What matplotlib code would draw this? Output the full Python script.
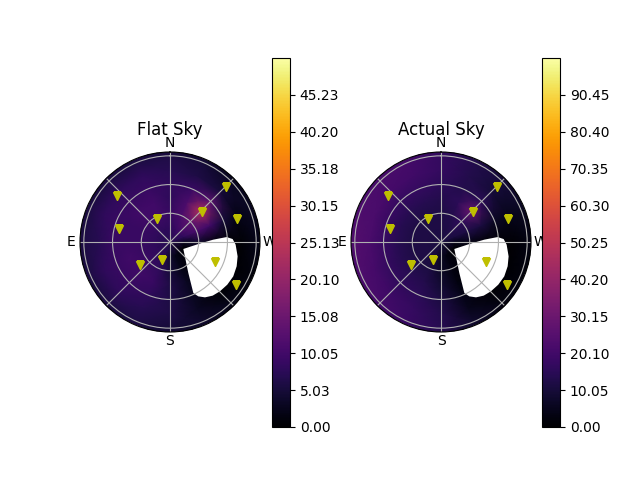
import numpy as np
import matplotlib
matplotlib.use("Agg")
import matplotlib.pyplot as plt

# azimuth (deg, N=0, E=90) and zenith distance of the grid the sky was read on
az_deg = [0, 22.5, 45, 67.5, 90, 112.5, 135, 157.5, 180, 202.5, 225, 247.5, 270, 292.5, 315, 337.5, 360]
zd_deg = [0, 15, 30, 45, 60, 75, 90, 100]

flat_sky = [
    [7, 7, 7, 7, 7, 7, 7, 7, 7, 7, 7, 7, 7, 7, 7, 7, 7],
    [8, 8, 8, 8, 8, 8, 8, 7, 4, 2, 1, 0.5, 3, 8, 10, 9, 8],
    [9, 10, 10, 9, 9, 9, 9, 8, 5, 2, 0, 0, 4, 11, 14, 11, 9],
    [8, 10, 10, 9, 9, 10, 10, 9, 6, 3, 0, 0, 1, 10, 24, 11, 8],
    [8, 9, 9, 9, 9, 9, 9, 8, 6, 3, 0, 0, 0.5, 5, 13, 9, 8],
    [7, 8, 8, 8, 7, 8, 8, 7, 6, 3, 0.5, 0, 0.5, 2, 5, 6, 7],
    [6, 6, 6, 6, 6, 6, 6, 6, 5, 4, 2, 1, 2, 3, 3, 5, 6],
    [4, 5, 5, 5, 5, 5, 5, 5, 4, 3, 2, 1, 2, 2, 2, 3, 4],
]
actual_sky = [
    [11, 11, 11, 11, 11, 11, 11, 11, 11, 11, 11, 11, 11, 11, 11, 11, 11],
    [12, 12, 12, 12, 12, 12, 12, 10, 6, 3, 1, 1, 4, 11, 13, 12, 12],
    [12, 12, 12, 12, 12, 12, 12, 11, 7, 3, 0, 0, 4, 12, 16, 13, 12],
    [13, 14, 14, 14, 14, 14, 14, 13, 9, 3, 0, 0, 1, 11, 30, 15, 13],
    [15, 17, 17, 18, 18, 17, 16, 15, 11, 4, 0, 0, 0.5, 7, 15, 13, 15],
    [17, 20, 21, 22, 22, 21, 19, 17, 13, 5, 0.5, 0, 0.5, 5, 10, 13, 17],
    [17, 21, 22, 23, 24, 23, 21, 18, 14, 8, 3, 2, 3, 6, 10, 13, 17],
    [15, 19, 20, 21, 21, 21, 19, 16, 12, 7, 3, 2, 3, 5, 8, 11, 15],
]

# the blank patch around the sun
hole_az = [242.3, 266.7, 273.1, 275, 272.7, 267.7, 258, 250, 241.5, 233.3, 225.4, 218.5, 212.3, 207.5, 204.6, 210.6, 242.3]
hole_zd = [15.7, 30.7, 45.3, 59.4, 65.5, 68.6, 72.2, 74.1, 75.2, 74.6, 73.3, 71.6, 68.4, 64, 58.6, 37.6, 15.7]

# the yellow triangles
star_az = [48.7, 75.6, 28.8, 312.5, 314.5, 288.9, 245.8, 237, 157.3, 127.8]
star_zd = [73.2, 54.6, 27.4, 45.8, 82, 74.4, 51.9, 82.6, 20.8, 39.2]

flat_ticks = [0.00, 5.03, 10.05, 15.08, 20.10, 25.13, 30.15, 35.18, 40.20, 45.23]
actual_ticks = [0.00, 10.05, 20.10, 30.15, 40.20, 50.25, 60.30, 70.35, 80.40, 90.45]
flat_max = 50.27
actual_max = 100.5

fig = plt.figure(figsize=(6.4, 4.8), dpi=100)


def draw_sky(left, cbar_left, sky, vmax, ticks, title):
    ax = fig.add_axes([left / 640, 148 / 480, 180 / 640, 180 / 480], projection="polar")
    ax.set_theta_zero_location("N")
    th, rr = np.meshgrid(np.radians(az_deg), zd_deg)
    mesh = ax.pcolormesh(th, rr, np.array(sky), shading="gouraud", cmap="inferno",
                         vmin=0, vmax=vmax, zorder=0.5)
    ax.fill(np.radians(hole_az), hole_zd, color="white", lw=0, zorder=0.6)
    ax.plot(np.radians(star_az), star_zd, "yv", zorder=3)
    ax.set_rlim(0, 94)
    ax.set_rticks([30, 60, 90])
    ax.set_yticklabels([])
    ax.set_thetagrids(range(0, 360, 45), ["N", "", "E", "", "S", "", "W", ""])
    ax.tick_params(axis="x", pad=-3.7)
    ax.grid(True)
    ax.set_title(title, y=1.094, pad=0)
    cax = fig.add_axes([cbar_left / 640, 53 / 480, 18 / 640, 369 / 480])
    fig.colorbar(mesh, cax=cax, ticks=ticks, format="%.2f")


draw_sky(80, 272, flat_sky, flat_max, flat_ticks, "Flat Sky")
draw_sky(351, 542, actual_sky, actual_max, actual_ticks, "Actual Sky")

fig.savefig("out.png", dpi=100)
